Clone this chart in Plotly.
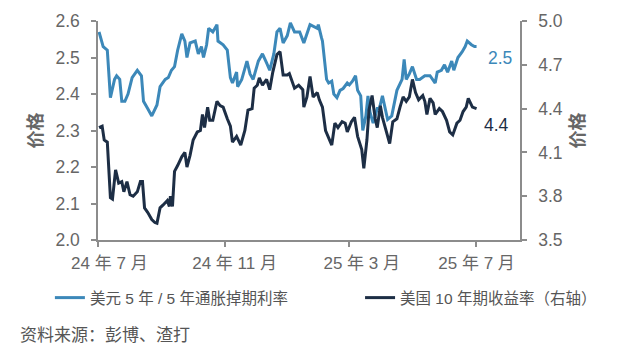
import plotly.graph_objects as go

# 美元 5 年 / 5 年通胀掉期利率 (左轴)
blue_dates = [
    "2024-07-02","2024-07-06","2024-07-10","2024-07-13","2024-07-17","2024-07-19","2024-07-22","2024-07-24",
    "2024-07-27","2024-07-30","2024-08-03","2024-08-08","2024-08-12","2024-08-14","2024-08-18","2024-08-22",
    "2024-08-27","2024-08-30","2024-09-04","2024-09-07","2024-09-10","2024-09-13","2024-09-16","2024-09-20",
    "2024-09-23","2024-09-25","2024-09-28","2024-10-03","2024-10-06","2024-10-09","2024-10-11","2024-10-14",
    "2024-10-16","2024-10-20","2024-10-24","2024-10-25","2024-10-30","2024-11-03","2024-11-06","2024-11-08",
    "2024-11-12","2024-11-13","2024-11-17","2024-11-22","2024-11-25","2024-11-28","2024-12-03","2024-12-07",
    "2024-12-11","2024-12-14","2024-12-18","2024-12-21","2024-12-24","2024-12-27","2024-12-31","2025-01-03",
    "2025-01-07","2025-01-12","2025-01-16","2025-01-20","2025-01-22","2025-01-29","2025-01-30","2025-02-02",
    "2025-02-03","2025-02-07","2025-02-09","2025-02-12","2025-02-14","2025-02-17","2025-02-20","2025-02-23",
    "2025-02-27","2025-03-01","2025-03-04","2025-03-07","2025-03-09","2025-03-12","2025-03-14","2025-03-17",
    "2025-03-19","2025-03-21","2025-03-24","2025-03-28","2025-03-30","2025-04-02","2025-04-05","2025-04-07",
    "2025-04-11","2025-04-14","2025-04-16","2025-04-21","2025-04-23","2025-04-25","2025-04-28","2025-05-01",
    "2025-05-05","2025-05-08","2025-05-13","2025-05-18","2025-05-23","2025-05-25","2025-05-29","2025-06-01",
    "2025-06-04","2025-06-08","2025-06-10","2025-06-14","2025-06-18","2025-06-21","2025-06-23","2025-06-27",
    "2025-06-30","2025-07-02",
]
blue_values = [
    2.57, 2.53, 2.52, 2.39, 2.44, 2.45, 2.44, 2.38,
    2.38, 2.40, 2.445, 2.465, 2.45, 2.38, 2.36, 2.34,
    2.37, 2.42, 2.44, 2.445, 2.465, 2.475, 2.52, 2.565,
    2.545, 2.50, 2.54, 2.545, 2.51, 2.53, 2.50, 2.535,
    2.58, 2.57, 2.59, 2.545, 2.535, 2.52, 2.445, 2.43,
    2.46, 2.42, 2.44, 2.49, 2.455, 2.44, 2.49, 2.51,
    2.485, 2.465, 2.51, 2.57, 2.58, 2.54, 2.56, 2.595,
    2.57, 2.57, 2.54, 2.57, 2.59, 2.58, 2.59, 2.555,
    2.545, 2.44, 2.43, 2.435, 2.40, 2.39, 2.41, 2.415,
    2.43, 2.425, 2.435, 2.45, 2.41, 2.395, 2.30, 2.34,
    2.395, 2.35, 2.32, 2.36, 2.36, 2.395, 2.35, 2.33,
    2.34, 2.385, 2.41, 2.44, 2.495, 2.44, 2.455, 2.475,
    2.44, 2.44, 2.45, 2.45, 2.43, 2.46, 2.465, 2.48,
    2.46, 2.49, 2.465, 2.50, 2.515, 2.53, 2.545, 2.535,
    2.53, 2.53,
]

# 美国 10 年期收益率 (右轴)
dark_dates = [
    "2024-07-02","2024-07-05","2024-07-07","2024-07-10","2024-07-13","2024-07-15","2024-07-18","2024-07-21",
    "2024-07-24","2024-07-26","2024-07-29","2024-08-01","2024-08-04","2024-08-08","2024-08-11","2024-08-13",
    "2024-08-15","2024-08-18","2024-08-22","2024-08-25","2024-08-27","2024-08-30","2024-09-02","2024-09-06",
    "2024-09-08","2024-09-09","2024-09-11","2024-09-13","2024-09-16","2024-09-20","2024-09-23","2024-09-25",
    "2024-09-28","2024-10-01","2024-10-05","2024-10-08","2024-10-10","2024-10-12","2024-10-15","2024-10-17",
    "2024-10-20","2024-10-24","2024-10-27","2024-10-30","2024-11-03","2024-11-06","2024-11-08","2024-11-12",
    "2024-11-16","2024-11-20","2024-11-23","2024-11-27","2024-11-29","2024-12-02","2024-12-04","2024-12-07",
    "2024-12-11","2024-12-14","2024-12-17","2024-12-21","2024-12-24","2024-12-27","2024-12-31","2025-01-02",
    "2025-01-07","2025-01-11","2025-01-15","2025-01-16","2025-01-19","2025-01-22","2025-01-25","2025-01-29",
    "2025-01-31","2025-02-03","2025-02-06","2025-02-09","2025-02-12","2025-02-15","2025-02-18","2025-02-22",
    "2025-02-25","2025-02-27","2025-03-03","2025-03-06","2025-03-09","2025-03-13","2025-03-15","2025-03-18",
    "2025-03-20","2025-03-23","2025-03-26","2025-03-28","2025-03-31","2025-04-02","2025-04-06","2025-04-09",
    "2025-04-12","2025-04-16","2025-04-19","2025-04-22","2025-04-25","2025-04-28","2025-05-01","2025-05-04",
    "2025-05-07","2025-05-11","2025-05-13","2025-05-15","2025-05-18","2025-05-21","2025-05-23","2025-05-27",
    "2025-05-30","2025-06-03","2025-06-06","2025-06-09","2025-06-13","2025-06-16","2025-06-19","2025-06-22",
    "2025-06-24","2025-06-28","2025-07-02",
]
dark_values = [
    4.27, 4.28, 4.185, 4.17, 3.79, 3.78, 3.98, 3.89,
    3.90, 3.83, 3.90, 3.81, 3.80, 3.83, 3.90, 3.90,
    3.72, 3.69, 3.64, 3.62, 3.615, 3.72, 3.74, 3.77,
    3.73, 3.80, 3.73, 3.97, 4.01, 4.07, 4.10, 4.00,
    4.08, 4.185, 4.24, 4.25, 4.36, 4.27, 4.41, 4.32,
    4.32, 4.45, 4.42, 4.41, 4.33, 4.28, 4.17, 4.21,
    4.15, 4.25, 4.39, 4.40, 4.54, 4.56, 4.61, 4.56,
    4.60, 4.53, 4.65, 4.77, 4.79, 4.63, 4.63, 4.64,
    4.54, 4.56, 4.53, 4.41, 4.48, 4.62, 4.48, 4.51,
    4.46, 4.41, 4.25, 4.20, 4.15, 4.30, 4.27, 4.31,
    4.30, 4.24, 4.31, 4.34, 4.21, 4.12, 3.99, 4.185,
    4.39, 4.49, 4.33, 4.27, 4.42, 4.34, 4.24, 4.16,
    4.31, 4.33, 4.41, 4.48, 4.45, 4.48, 4.60, 4.51,
    4.46, 4.49, 4.45, 4.36, 4.47, 4.44, 4.36, 4.40,
    4.38, 4.32, 4.24, 4.22, 4.30, 4.32, 4.38, 4.41,
    4.47, 4.41, 4.40,
]

# x-axis: tick marks every 4 months from Jul 2024; labels sit slightly right of the marks
tick_start = "2024-07-01"
label_dates = ["2024-07-12", "2024-11-10", "2025-03-13", "2025-07-02"]
tick_labels = ["24 年 7 月", "24 年 11 月", "25 年 3 月", "25 年 7 月"]
left_ticks = [2.0, 2.1, 2.2, 2.3, 2.4, 2.5, 2.6]
right_ticks = [3.5, 3.8, 4.1, 4.4, 4.7, 5.0]

BLUE = "#3C88B9"
DARK = "#1D2E45"
GRAY = "#666666"
AXIS = "#8C8C8C"
FONT = "Liberation Sans, Arial, Noto Sans CJK SC, sans-serif"

fig = go.Figure()
fig.add_trace(go.Scatter(x=blue_dates, y=blue_values, mode="lines",
                         name="美元 5 年 / 5 年通胀掉期利率", legend="legend",
                         line=dict(color=BLUE, width=3)))
fig.add_trace(go.Scatter(x=dark_dates, y=dark_values, mode="lines",
                         name="美国 10 年期收益率（右轴）", yaxis="y2", legend="legend2",
                         line=dict(color=DARK, width=3)))

fig.add_annotation(x="2025-07-25", y=2.5, xref="x", yref="y", text="2.5",
                   showarrow=False, font=dict(size=17.5, color=BLUE, family=FONT))
fig.add_annotation(x="2025-07-21", y=4.29, xref="x", yref="y2", text="4.4",
                   showarrow=False, font=dict(size=17.5, color=DARK, family=FONT))
fig.add_annotation(x=-0.19, y=-0.435, xref="paper", yref="paper", xanchor="left",
                   yanchor="middle", text="资料来源：彭博、渣打", showarrow=False,
                   font=dict(size=17, color="#555555", family=FONT))

legend_font = dict(size=15.5, color="#555555", family=FONT)
axis_common = dict(showgrid=False, zeroline=False, showline=True, linecolor=AXIS,
                   linewidth=1.5, automargin=False)

# the page body adds an 8 px offset, so the figure is 8 px smaller each way
fig.update_layout(
    width=612, height=352,
    margin=dict(l=90, r=100, t=13, b=120),
    paper_bgcolor="white", plot_bgcolor="white",
    font=dict(family=FONT, color=GRAY),
    showlegend=True,
    legend=dict(x=-0.114, y=-0.265, xanchor="left", yanchor="middle",
                font=legend_font, bgcolor="rgba(0,0,0,0)", borderwidth=0),
    legend2=dict(x=0.621, y=-0.265, xanchor="left", yanchor="middle",
                 font=legend_font, bgcolor="rgba(0,0,0,0)", borderwidth=0),
    xaxis=dict(type="date", range=["2024-07-01", "2025-08-13"],
               tickvals=label_dates, ticktext=tick_labels, ticks="", ticklen=0,
               ticklabelstandoff=7,
               tickfont=dict(size=17, color=GRAY, family=FONT),
               minor=dict(ticks="outside", ticklen=5, tickcolor=AXIS, tickwidth=1.5,
                          dtick="M4", tick0=tick_start, showgrid=False),
               **axis_common),
    yaxis=dict(range=[2.0, 2.6], tickvals=left_ticks, tickformat=".1f",
               ticks="outside", ticklen=5, tickcolor=AXIS, tickwidth=1.5,
               ticklabelstandoff=8,
               tickfont=dict(size=17.5, color=GRAY, family=FONT),
               title=dict(text="价格", standoff=8,
                          font=dict(size=18, color=GRAY, family=FONT, weight="bold")),
               **axis_common),
    yaxis2=dict(range=[3.5, 5.0], tickvals=right_ticks, tickformat=".1f",
                overlaying="y", side="right",
                ticks="outside", ticklen=5, tickcolor=AXIS, tickwidth=1.5,
                ticklabelstandoff=8,
                tickfont=dict(size=17.5, color=GRAY, family=FONT),
                title=dict(text="价格", standoff=10,
                           font=dict(size=18, color=GRAY, family=FONT, weight="bold")),
                **axis_common),
)

fig.write_html("out.html")
